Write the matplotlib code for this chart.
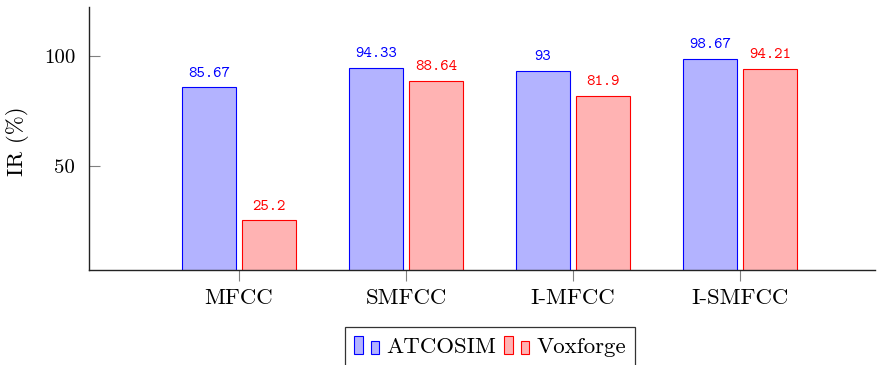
import matplotlib.pyplot as plt
import numpy as np
from matplotlib.legend_handler import HandlerBase
from matplotlib.patches import Rectangle

plt.rcParams['font.family'] = 'cmr10'
plt.rcParams['axes.formatter.use_mathtext'] = True

features = ['MFCC', 'SMFCC', 'I-MFCC', 'I-SMFCC']
atcosim = [85.67, 94.33, 93, 98.67]
voxforge = [25.2, 88.64, 81.9, 94.21]
atcosim_labels = ['85.67', '94.33', '93', '98.67']
voxforge_labels = ['25.2', '88.64', '81.9', '94.21']

blue_fill = (0.7, 0.7, 1.0)
red_fill = (1.0, 0.7, 0.7)


class TwoBarHandler(HandlerBase):
    # pgfplots-style ybar legend image: two small bars side by side
    def create_artists(self, legend, orig_handle, xdescent, ydescent,
                       width, height, fontsize, trans):
        bw = width / 3.0
        x0, y0 = -xdescent, -ydescent
        tall = Rectangle((x0, y0), bw, height,
                         facecolor=orig_handle.get_facecolor(),
                         edgecolor=orig_handle.get_edgecolor(),
                         linewidth=0.8, transform=trans)
        short = Rectangle((x0 + 2 * bw, y0), bw, height * 0.7,
                          facecolor=orig_handle.get_facecolor(),
                          edgecolor=orig_handle.get_edgecolor(),
                          linewidth=0.8, transform=trans)
        return [tall, short]


fig = plt.figure(figsize=(8.88, 3.65), dpi=100)
ax = fig.add_axes([89 / 888, 95 / 365, 786 / 888, 262.7 / 365])

x = np.arange(len(features))
w = 0.323
off = 0.18
b1 = ax.bar(x - off, atcosim, w, color=blue_fill, edgecolor='blue', linewidth=0.8)
b2 = ax.bar(x + off, voxforge, w, color=red_fill, edgecolor='red', linewidth=0.8)

for bars, labels, col in [(b1, atcosim_labels, 'blue'), (b2, voxforge_labels, 'red')]:
    for rect, lab in zip(bars, labels):
        ax.annotate(lab, (rect.get_x() + rect.get_width() / 2, rect.get_height()),
                    xytext=(0, 5), textcoords='offset points',
                    ha='center', va='bottom', color=col,
                    fontsize=11.5, family='cmtt10')

ax.set_xlim(-0.898, 3.808)
ax.set_ylim(2.7, 122.1)

ax.spines['top'].set_visible(False)
ax.spines['right'].set_visible(False)
for s in ['left', 'bottom']:
    ax.spines[s].set_linewidth(1.0)
    ax.spines[s].set_color('#222222')

ax.set_yticks([50, 100])
ax.set_yticklabels(['50', '100'])
ax.set_xticks(x)
ax.set_xticklabels(features)
ax.tick_params(axis='y', direction='in', length=8, width=0.8, color='gray',
               pad=10, labelsize=15)
ax.tick_params(axis='x', direction='out', length=8, width=0.8, color='gray',
               pad=5, labelsize=16.5)

ax.set_ylabel('IR (%)', fontsize=16.5)
ax.yaxis.set_label_coords(-0.076, 0.49)

# legend sits at the bottom edge, its lower border runs off the canvas
leg = ax.legend([b1[0], b2[0]], ['ATCOSIM', 'Voxforge'],
                handler_map={b1[0]: TwoBarHandler(), b2[0]: TwoBarHandler()},
                loc='upper center', bbox_to_anchor=(490 / 888, 38 / 365),
                bbox_transform=fig.transFigure, borderaxespad=0,
                ncol=2, fontsize=16.5, fancybox=False, frameon=True,
                handlelength=1.1, handleheight=0.8, handletextpad=0.3,
                columnspacing=0.35, borderpad=0.4)
leg.get_frame().set_edgecolor('black')
leg.get_frame().set_linewidth(0.9)

fig.savefig('out.png', dpi=100)
